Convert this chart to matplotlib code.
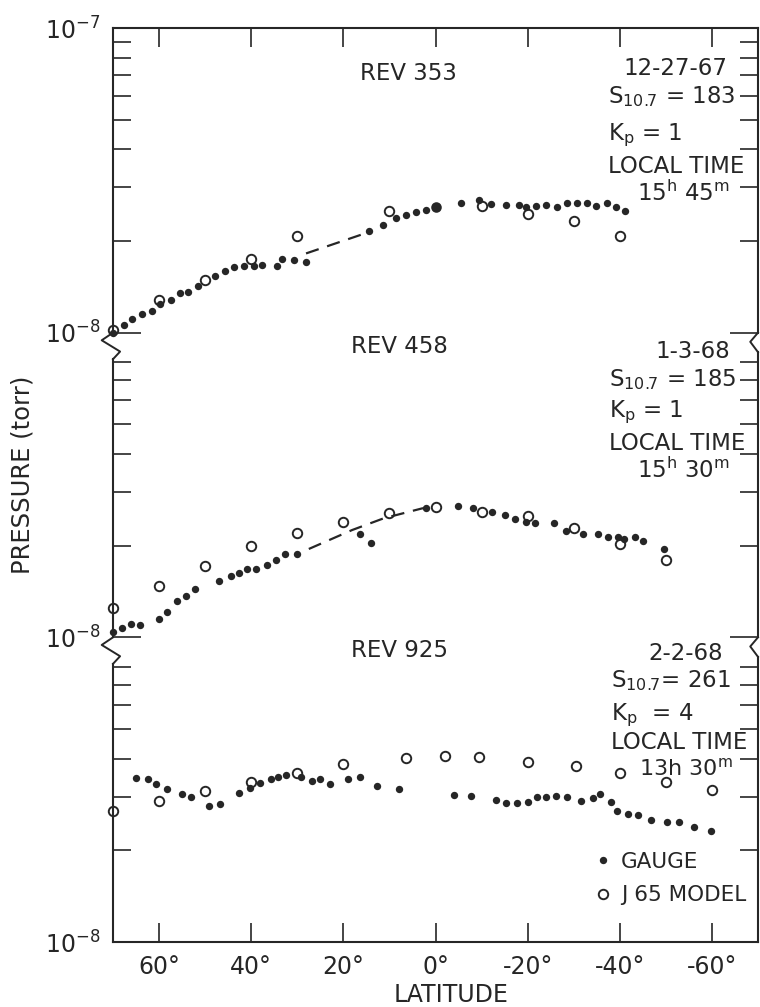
import matplotlib
matplotlib.use("Agg")
import matplotlib.pyplot as plt
import numpy as np
from matplotlib.lines import Line2D
from matplotlib.ticker import FixedLocator, NullFormatter

# ---------------- data (pressure in units of 1e-8 torr) ----------------
UNIT = 1e-8

top_gauge_lat = [70, 67.6, 65.8, 63.8, 61.6, 59.7, 57.5, 55.5, 53.8, 51.5,
                 47.8, 45.6, 43.8, 41.6, 39.4, 37.6, 34.5, 33.3, 30.8, 28.1,
                 14.4, 11.4, 8.5, 6.4, 4.2, 2.1,
                 -5.6, -9.4, -12.0, -15.2, -18.1, -19.6, -21.9, -23.9, -26.3, -28.6,
                 -30.8, -32.9, -34.8, -37.3, -39.1, -41.1]
top_gauge_p = [1.00, 1.06, 1.11, 1.15, 1.18, 1.24, 1.28, 1.35, 1.36, 1.42,
               1.54, 1.59, 1.64, 1.66, 1.66, 1.67, 1.65, 1.74, 1.73, 1.70,
               2.15, 2.26, 2.37, 2.43, 2.48, 2.53,
               2.67, 2.73, 2.65, 2.62, 2.63, 2.59, 2.61, 2.63, 2.58, 2.66,
               2.67, 2.66, 2.61, 2.66, 2.59, 2.50]
top_big_lat = [0.0]
top_big_p = [2.59]
top_model_lat = [70, 60, 50, 40, 30, 10, -10, -20, -30, -40]
top_model_p = [1.02, 1.28, 1.49, 1.74, 2.07, 2.50, 2.61, 2.45, 2.33, 2.08]
top_dash_lat = [28.1, 14.4]
top_dash_p = [1.82, 2.14]

mid_gauge_lat = [70, 68.0, 66.2, 64.2, 60.0, 58.2, 56.1, 54.1, 52.1, 46.9,
                 44.4, 42.6, 40.9, 38.9, 36.5, 34.6, 32.7, 30.0, 16.3, 13.9,
                 2.0, -4.9, -8.2, -12.2, -15.1, -17.2, -19.6, -21.6, -25.7, -28.4,
                 -32.0, -35.3, -37.4, -39.6, -41.0, -43.2, -45.1, -49.6]
mid_gauge_p = [1.04, 1.07, 1.11, 1.10, 1.15, 1.21, 1.32, 1.37, 1.44, 1.53,
               1.59, 1.63, 1.68, 1.68, 1.73, 1.79, 1.88, 1.88, 2.19, 2.04,
               2.65, 2.70, 2.66, 2.58, 2.53, 2.44, 2.39, 2.37, 2.38, 2.24,
               2.18, 2.18, 2.14, 2.14, 2.10, 2.13, 2.07, 1.95]
mid_model_lat = [70, 60, 50, 40, 30, 20, 10, 0, -10, -20, -30, -40, -50]
mid_model_p = [1.25, 1.47, 1.71, 1.99, 2.20, 2.39, 2.56, 2.67, 2.57, 2.50, 2.28, 2.02, 1.80]
mid_dash_lat = [27.5, 18.1, 11.2, 2.9, 1.0]
mid_dash_p = [1.95, 2.25, 2.46, 2.65, 2.67]

bot_gauge_lat = [65.0, 62.4, 60.6, 58.2, 55.0, 53.0, 49.1, 46.7, 42.7, 40.2,
                 38.1, 35.8, 34.2, 32.4, 29.2, 26.9, 25.0, 22.8, 19.0, 16.4,
                 12.8, 7.9, -4.0, -7.6, -13.1, -15.4, -17.6, -20.1, -22.1, -24.0,
                 -26.1, -28.6, -31.5, -34.2, -35.7, -38.1, -39.4, -41.8, -44.0, -46.7,
                 -50.3, -52.8, -56.2, -59.8]
bot_gauge_p = [3.45, 3.42, 3.30, 3.18, 3.06, 3.00, 2.80, 2.83, 3.09, 3.20,
               3.32, 3.43, 3.49, 3.53, 3.47, 3.37, 3.44, 3.29, 3.44, 3.48,
               3.25, 3.18, 3.04, 3.01, 2.92, 2.85, 2.85, 2.88, 2.99, 2.99,
               3.02, 2.99, 2.91, 2.96, 3.05, 2.89, 2.69, 2.63, 2.61, 2.51,
               2.48, 2.48, 2.39, 2.31]
bot_model_lat = [70, 60, 50, 40, 30, 20, 6.5, -2, -9.5, -20, -30.5, -40, -50, -60]
bot_model_p = [2.70, 2.90, 3.14, 3.34, 3.58, 3.84, 4.01, 4.08, 4.04, 3.90, 3.79, 3.58, 3.36, 3.16]

x_ticks = [60, 40, 20, 0, -20, -40, -60]
x_tick_labels = ["60°", "40°", "20°", "0°", "-20°", "-40°", "-60°"]

panel_titles = ["REV 353", "REV 458", "REV 925"]
panel_dates = ["12-27-67", "1-3-68", "2-2-68"]
panel_s107 = [r"S$_{10.7}$ = 183", r"S$_{10.7}$ = 185", r"S$_{10.7}$= 261"]
panel_kp = [r"K$_\mathrm{p}$ = 1", r"K$_\mathrm{p}$ = 1", r"K$_\mathrm{p}$  = 4"]
panel_time = [r"15$^\mathrm{h}$ 45$^\mathrm{m}$", r"15$^\mathrm{h}$ 30$^\mathrm{m}$",
              r"13h 30$^\mathrm{m}$"]

# ---------------- figure ----------------
INK = "#262626"
W, H = 760, 1007
plt.rcParams["mathtext.fontset"] = "dejavusans"
fig = plt.figure(figsize=(7.6, 10.07), dpi=100)


def fx(px):
    return px / W


def fy(py):
    return 1 - py / H


left = fx(113)
width = fx(758) - left
top = fy(28)
bottom = fy(942)
ph = (top - bottom) / 3

GMS = 5.3   # gauge dot size
MMS = 6.8   # model circle size

panels = [
    (top_gauge_lat, top_gauge_p, top_model_lat, top_model_p, top_dash_lat, top_dash_p),
    (mid_gauge_lat, mid_gauge_p, mid_model_lat, mid_model_p, mid_dash_lat, mid_dash_p),
    (bot_gauge_lat, bot_gauge_p, bot_model_lat, bot_model_p, None, None),
]

axes = []
for i, (glat, gp, mlat, mp, dlat, dp) in enumerate(panels):
    ax = fig.add_axes([left, top - (i + 1) * ph, width, ph])
    ax.patch.set_visible(False)
    ax.set_yscale("log")
    ax.set_ylim(1e-8, 1e-7)
    ax.set_xlim(70, -70)

    # y ticks
    if i == 0:
        ax.yaxis.set_major_locator(FixedLocator([1e-8, 1e-7]))
        ax.set_yticklabels([r"$10^{-8}$", r"$10^{-7}$"])
        ax.yaxis.set_minor_locator(FixedLocator([k * 1e-8 for k in range(2, 10)]))
    else:
        ax.yaxis.set_major_locator(FixedLocator([1e-8]))
        ax.set_yticklabels([r"$10^{-8}$"])
        ax.yaxis.set_minor_locator(FixedLocator([k * 1e-8 for k in range(2, 9)]))
    ax.yaxis.set_minor_formatter(NullFormatter())
    ax.tick_params(axis="y", which="major", direction="in", length=20, width=1.2,
                   left=True, right=True, labelsize=17, pad=9, colors=INK)
    ax.tick_params(axis="y", which="minor", direction="in", length=13, width=1.2,
                   left=True, right=True, colors=INK)

    # x ticks
    ax.set_xticks(x_ticks)
    if i == 0:
        ax.tick_params(axis="x", direction="in", length=14, width=1.2, top=True,
                       bottom=False, labeltop=False, labelbottom=False, colors=INK)
    elif i == 2:
        ax.set_xticklabels(x_tick_labels)
        ax.tick_params(axis="x", direction="in", length=14, width=1.2, top=False,
                       bottom=True, labelbottom=True, labelsize=17, pad=9, colors=INK)
    else:
        ax.tick_params(axis="x", top=False, bottom=False, labelbottom=False)

    # spines
    for s in ax.spines.values():
        s.set_linewidth(1.5)
        s.set_color(INK)
    if i == 0:
        ax.spines["bottom"].set_visible(False)
    else:
        ax.spines["top"].set_visible(False)
        if i == 1:
            ax.spines["bottom"].set_visible(False)
        ax.spines["left"].set_bounds(1e-8, 10 ** -7.087)
        ax.spines["right"].set_bounds(1e-8, 10 ** -7.064)
        ax.plot([0, -0.0175, 0.011, 0], [1.0, 0.975, 0.938, 0.913],
                transform=ax.transAxes, clip_on=False, color=INK, lw=1.4)
        ax.plot([1, 0.988, 1], [1.0, 0.97, 0.936],
                transform=ax.transAxes, clip_on=False, color=INK, lw=1.4)

    # data
    if dlat is not None:
        ax.plot(dlat, np.array(dp) * UNIT, color=INK, lw=1.6, dashes=(6, 4))
    ax.plot(glat, np.array(gp) * UNIT, "o", ms=GMS, color=INK, mec="none",
            clip_on=False)
    ax.plot(mlat, np.array(mp) * UNIT, "o", ms=MMS, mfc="none", mec=INK, mew=1.4,
            clip_on=False)
    if i == 0:
        ax.plot(top_big_lat, np.array(top_big_p) * UNIT, "o", ms=7.6, color=INK,
                mec="none")
    axes.append(ax)

# ---------------- annotations ----------------
FS = 16.5
txt = dict(color=INK, va="baseline")
# (title_x, title_y, date_right, date_y, left_x, s_y, k_y, lt_y, time_right, time_y)
pos = [
    (360, 80, 727, 75, 608, 103, 140, 173, 730, 201),
    (351, 353, 730, 358, 609, 386, 417, 450, 730, 478),
    (351, 657, 723, 660, 611, 687, 720, 749, 733, 775),
]
for i, p in enumerate(pos):
    fig.text(fx(p[0]), fy(p[1]), panel_titles[i], ha="left", fontsize=FS, **txt)
    fig.text(fx(p[2]), fy(p[3]), panel_dates[i], ha="right", fontsize=FS, **txt)
    fig.text(fx(p[4]), fy(p[5]), panel_s107[i], ha="left", fontsize=FS, **txt)
    fig.text(fx(p[4]), fy(p[6]), panel_kp[i], ha="left", fontsize=FS, **txt)
    fig.text(fx(p[4]), fy(p[7]), "LOCAL TIME", ha="left", fontsize=FS, **txt)
    fig.text(fx(p[8]), fy(p[9]), panel_time[i], ha="right",
             fontsize=FS if i < 2 else 16, **txt)

fig.text(fx(23), fy(475), "PRESSURE (torr)", rotation=90, ha="center", va="center",
         fontsize=17.5, color=INK)
fig.text(fx(451), fy(995), "LATITUDE", ha="center", va="center", fontsize=17,
         color=INK)

handles = [
    Line2D([], [], marker="o", ls="none", ms=GMS, color=INK, mec="none"),
    Line2D([], [], marker="o", ls="none", ms=MMS, mfc="none", mec=INK, mew=1.4),
]
fig.legend(handles, ["GAUGE", "J 65 MODEL"], loc="upper left",
           bbox_to_anchor=(fx(594), fy(852)), frameon=False, fontsize=15.5,
           handlelength=0.8, handletextpad=0.45, labelspacing=0.62, borderpad=0,
           borderaxespad=0, labelcolor=INK)

fig.savefig("out.png", dpi=100)
